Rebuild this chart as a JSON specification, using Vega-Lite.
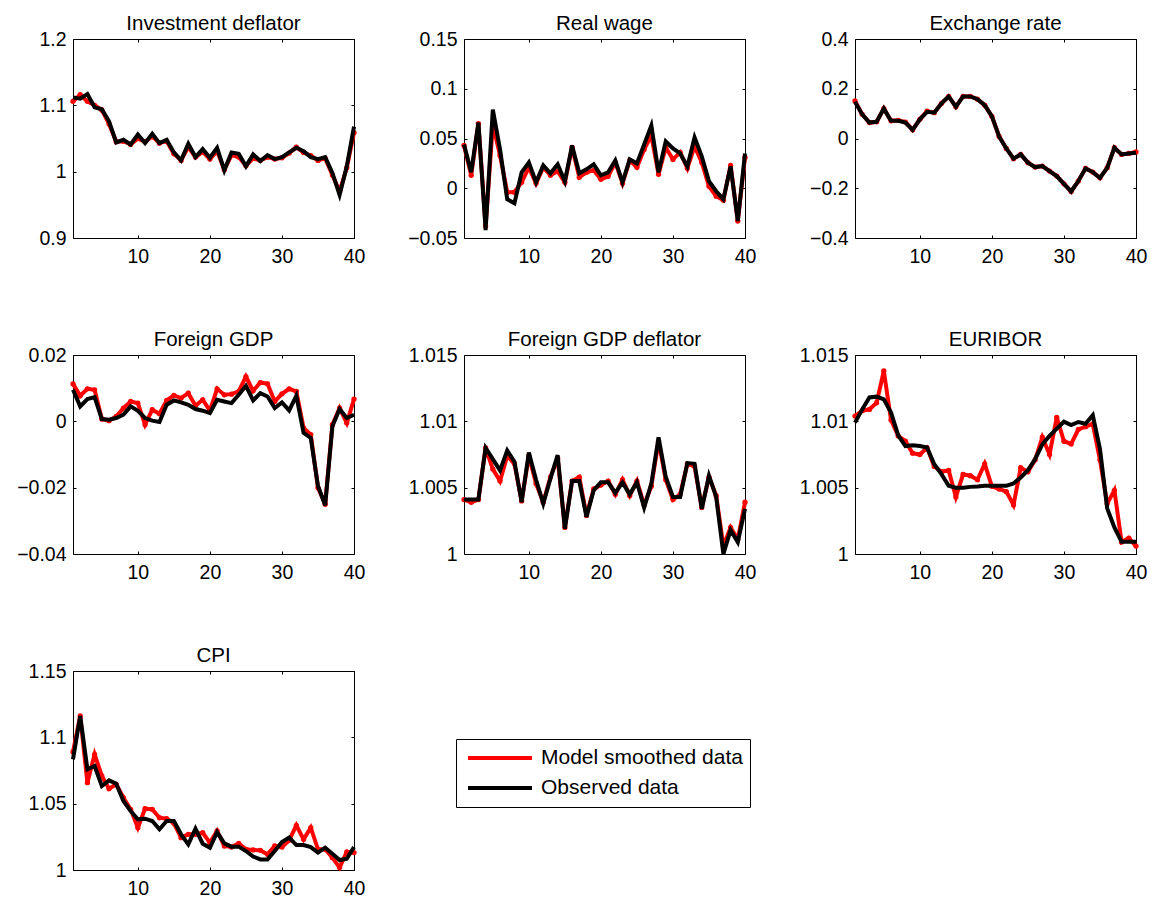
{
"$schema": "https://vega.github.io/schema/vega-lite/v6.json",
"background": "white",
"padding": {"left": 16, "top": 13, "right": 5, "bottom": 5},
"config": {
  "font": "Liberation Sans",
  "view": {"stroke": "black", "strokeWidth": 1},
  "axis": {"labelFont": "Liberation Sans", "labelFontSize": 19.5, "labelColor": "black", "domain": false, "grid": false, "tickColor": "black", "tickWidth": 1, "labelOverlap": false},
  "title": {"font": "Liberation Sans", "fontSize": 20.5, "fontWeight": "normal", "color": "black", "offset": -2, "dy": 3, "baseline": "alphabetic"},
  "line": {"strokeJoin": "miter"}
},
"datasets": {
"inv": [
{"t":1,"model":1.106,"obs":1.112},{"t":2,"model":1.116,"obs":1.110},{"t":3,"model":1.106,"obs":1.117},{"t":4,"model":1.100,"obs":1.097},{"t":5,"model":1.093,"obs":1.094},
{"t":6,"model":1.072,"obs":1.076},{"t":7,"model":1.045,"obs":1.044},{"t":8,"model":1.046,"obs":1.048},{"t":9,"model":1.041,"obs":1.041},{"t":10,"model":1.050,"obs":1.056},
{"t":11,"model":1.045,"obs":1.043},{"t":12,"model":1.053,"obs":1.057},{"t":13,"model":1.043,"obs":1.043},{"t":14,"model":1.046,"obs":1.048},{"t":15,"model":1.027,"obs":1.029},
{"t":16,"model":1.017,"obs":1.017},{"t":17,"model":1.037,"obs":1.042},{"t":18,"model":1.022,"obs":1.022},{"t":19,"model":1.030,"obs":1.034},{"t":20,"model":1.019,"obs":1.021},
{"t":21,"model":1.031,"obs":1.036},{"t":22,"model":1.003,"obs":1.002},{"t":23,"model":1.025,"obs":1.029},{"t":24,"model":1.022,"obs":1.027},{"t":25,"model":1.009,"obs":1.008},
{"t":26,"model":1.020,"obs":1.026},{"t":27,"model":1.017,"obs":1.016},{"t":28,"model":1.022,"obs":1.025},{"t":29,"model":1.019,"obs":1.019},{"t":30,"model":1.021,"obs":1.022},
{"t":31,"model":1.028,"obs":1.029},{"t":32,"model":1.037,"obs":1.036},{"t":33,"model":1.029,"obs":1.031},{"t":34,"model":1.024,"obs":1.022},{"t":35,"model":1.017,"obs":1.019},
{"t":36,"model":1.020,"obs":1.022},{"t":37,"model":0.995,"obs":0.998},{"t":38,"model":0.970,"obs":0.965},{"t":39,"model":1.006,"obs":1.008},{"t":40,"model":1.059,"obs":1.068}
],
"wage": [
{"t":1,"model":0.043,"obs":0.044},{"t":2,"model":0.013,"obs":0.016},{"t":3,"model":0.065,"obs":0.066},{"t":4,"model":-0.038,"obs":-0.042},{"t":5,"model":0.064,"obs":0.079},
{"t":6,"model":0.033,"obs":0.039},{"t":7,"model":-0.004,"obs":-0.011},{"t":8,"model":-0.004,"obs":-0.015},{"t":9,"model":0.006,"obs":0.016},{"t":10,"model":0.021,"obs":0.026},
{"t":11,"model":0.005,"obs":0.006},{"t":12,"model":0.021,"obs":0.023},{"t":13,"model":0.013,"obs":0.015},{"t":14,"model":0.017,"obs":0.024},{"t":15,"model":0.006,"obs":0.007},
{"t":16,"model":0.041,"obs":0.043},{"t":17,"model":0.011,"obs":0.015},{"t":18,"model":0.016,"obs":0.019},{"t":19,"model":0.018,"obs":0.024},{"t":20,"model":0.009,"obs":0.013},
{"t":21,"model":0.012,"obs":0.016},{"t":22,"model":0.026,"obs":0.028},{"t":23,"model":0.005,"obs":0.006},{"t":24,"model":0.028,"obs":0.029},{"t":25,"model":0.021,"obs":0.025},
{"t":26,"model":0.039,"obs":0.044},{"t":27,"model":0.053,"obs":0.063},{"t":28,"model":0.014,"obs":0.016},{"t":29,"model":0.041,"obs":0.047},{"t":30,"model":0.029,"obs":0.040},
{"t":31,"model":0.036,"obs":0.035},{"t":32,"model":0.020,"obs":0.022},{"t":33,"model":0.042,"obs":0.051},{"t":34,"model":0.026,"obs":0.032},{"t":35,"model":0.002,"obs":0.007},
{"t":36,"model":-0.008,"obs":-0.003},{"t":37,"model":-0.012,"obs":-0.011},{"t":38,"model":0.023,"obs":0.022},{"t":39,"model":-0.033,"obs":-0.033},{"t":40,"model":0.031,"obs":0.035}
],
"exch": [
{"t":1,"model":0.151,"obs":0.148},{"t":2,"model":0.097,"obs":0.097},{"t":3,"model":0.064,"obs":0.064},{"t":4,"model":0.067,"obs":0.067},{"t":5,"model":0.120,"obs":0.120},
{"t":6,"model":0.071,"obs":0.071},{"t":7,"model":0.073,"obs":0.071},{"t":8,"model":0.066,"obs":0.064},{"t":9,"model":0.035,"obs":0.035},{"t":10,"model":0.077,"obs":0.077},
{"t":11,"model":0.110,"obs":0.107},{"t":12,"model":0.104,"obs":0.104},{"t":13,"model":0.141,"obs":0.141},{"t":14,"model":0.169,"obs":0.169},{"t":15,"model":0.128,"obs":0.128},
{"t":16,"model":0.169,"obs":0.169},{"t":17,"model":0.169,"obs":0.169},{"t":18,"model":0.158,"obs":0.158},{"t":19,"model":0.134,"obs":0.134},{"t":20,"model":0.089,"obs":0.089},
{"t":21,"model":0.008,"obs":0.008},{"t":22,"model":-0.040,"obs":-0.040},{"t":23,"model":-0.081,"obs":-0.081},{"t":24,"model":-0.064,"obs":-0.064},{"t":25,"model":-0.097,"obs":-0.097},
{"t":26,"model":-0.115,"obs":-0.115},{"t":27,"model":-0.111,"obs":-0.111},{"t":28,"model":-0.131,"obs":-0.131},{"t":29,"model":-0.151,"obs":-0.151},{"t":30,"model":-0.182,"obs":-0.182},
{"t":31,"model":-0.213,"obs":-0.213},{"t":32,"model":-0.171,"obs":-0.171},{"t":33,"model":-0.120,"obs":-0.120},{"t":34,"model":-0.135,"obs":-0.135},{"t":35,"model":-0.158,"obs":-0.158},
{"t":36,"model":-0.118,"obs":-0.118},{"t":37,"model":-0.037,"obs":-0.037},{"t":38,"model":-0.064,"obs":-0.064},{"t":39,"model":-0.060,"obs":-0.060},{"t":40,"model":-0.054,"obs":-0.057}
],
"fgdp": [
{"t":1,"model":0.0113,"obs":0.0095},{"t":2,"model":0.0077,"obs":0.0045},{"t":3,"model":0.0098,"obs":0.0067},{"t":4,"model":0.0095,"obs":0.0073},{"t":5,"model":0.0007,"obs":0.0007},
{"t":6,"model":0.0002,"obs":0.0005},{"t":7,"model":0.0015,"obs":0.0010},{"t":8,"model":0.0040,"obs":0.0020},{"t":9,"model":0.0060,"obs":0.0045},{"t":10,"model":0.0055,"obs":0.0032},
{"t":11,"model":-0.0010,"obs":0.0010},{"t":12,"model":0.0035,"obs":0.0002},{"t":13,"model":0.0023,"obs":-0.0002},{"t":14,"model":0.0063,"obs":0.0050},{"t":15,"model":0.0078,"obs":0.0063},
{"t":16,"model":0.0070,"obs":0.0057},{"t":17,"model":0.0085,"obs":0.0050},{"t":18,"model":0.0047,"obs":0.0037},{"t":19,"model":0.0065,"obs":0.0032},{"t":20,"model":0.0032,"obs":0.0025},
{"t":21,"model":0.0098,"obs":0.0065},{"t":22,"model":0.0080,"obs":0.0060},{"t":23,"model":0.0082,"obs":0.0055},{"t":24,"model":0.0090,"obs":0.0080},{"t":25,"model":0.0135,"obs":0.0107},
{"t":26,"model":0.0092,"obs":0.0063},{"t":27,"model":0.0117,"obs":0.0085},{"t":28,"model":0.0113,"obs":0.0075},{"t":29,"model":0.0060,"obs":0.0040},{"t":30,"model":0.0083,"obs":0.0057},
{"t":31,"model":0.0098,"obs":0.0033},{"t":32,"model":0.0090,"obs":0.0077},{"t":33,"model":-0.0020,"obs":-0.0035},{"t":34,"model":-0.0040,"obs":-0.0050},{"t":35,"model":-0.0200,"obs":-0.0195},
{"t":36,"model":-0.0250,"obs":-0.0253},{"t":37,"model":-0.0010,"obs":-0.0015},{"t":38,"model":0.0040,"obs":0.0037},{"t":39,"model":-0.0005,"obs":0.0010},{"t":40,"model":0.0067,"obs":0.0020}
],
"fdef": [
{"t":1,"model":1.0041,"obs":1.0041},{"t":2,"model":1.0039,"obs":1.0041},{"t":3,"model":1.0041,"obs":1.0041},{"t":4,"model":1.0080,"obs":1.0080},{"t":5,"model":1.0064,"obs":1.00715},
{"t":6,"model":1.0055,"obs":1.0063},{"t":7,"model":1.0074,"obs":1.0078},{"t":8,"model":1.0068,"obs":1.00695},{"t":9,"model":1.0040,"obs":1.0039},{"t":10,"model":1.0074,"obs":1.00765},
{"t":11,"model":1.0053,"obs":1.0056},{"t":12,"model":1.0039,"obs":1.0038},{"t":13,"model":1.0058,"obs":1.0057},{"t":14,"model":1.0072,"obs":1.00745},{"t":15,"model":1.0020,"obs":1.0019},
{"t":16,"model":1.0055,"obs":1.0055},{"t":17,"model":1.0058,"obs":1.0055},{"t":18,"model":1.0029,"obs":1.0028},{"t":19,"model":1.0049,"obs":1.0048},{"t":20,"model":1.0052,"obs":1.0054},
{"t":21,"model":1.0055,"obs":1.0054},{"t":22,"model":1.0045,"obs":1.0046},{"t":23,"model":1.0056,"obs":1.0054},{"t":24,"model":1.0044,"obs":1.0045},{"t":25,"model":1.0055,"obs":1.0054},
{"t":26,"model":1.0037,"obs":1.0035},{"t":27,"model":1.0051,"obs":1.0053},{"t":28,"model":1.0085,"obs":1.0088},{"t":29,"model":1.0056,"obs":1.0058},{"t":30,"model":1.0041,"obs":1.0043},
{"t":31,"model":1.0045,"obs":1.0043},{"t":32,"model":1.0068,"obs":1.00685},{"t":33,"model":1.0066,"obs":1.0068},{"t":34,"model":1.0035,"obs":1.0034},{"t":35,"model":1.0058,"obs":1.0059},
{"t":36,"model":1.0044,"obs":1.0043},{"t":37,"model":1.0006,"obs":1.0000},{"t":38,"model":1.0020,"obs":1.0018},{"t":39,"model":1.0011,"obs":1.0009},{"t":40,"model":1.0039,"obs":1.0034}
],
"euri": [
{"t":1,"model":1.0104,"obs":1.0099},{"t":2,"model":1.0108,"obs":1.0109},{"t":3,"model":1.0109,"obs":1.0118},{"t":4,"model":1.0114,"obs":1.01186},{"t":5,"model":1.0138,"obs":1.01166},
{"t":6,"model":1.0101,"obs":1.01066},{"t":7,"model":1.0089,"obs":1.00895},{"t":8,"model":1.0085,"obs":1.00814},{"t":9,"model":1.0076,"obs":1.0082},{"t":10,"model":1.0075,"obs":1.00814},
{"t":11,"model":1.0080,"obs":1.00803},{"t":12,"model":1.0066,"obs":1.00677},{"t":13,"model":1.0062,"obs":1.00602},{"t":14,"model":1.0063,"obs":1.00514},{"t":15,"model":1.0043,"obs":1.0050},
{"t":16,"model":1.0060,"obs":1.0050},{"t":17,"model":1.0059,"obs":1.00506},{"t":18,"model":1.0056,"obs":1.00508},{"t":19,"model":1.0068,"obs":1.00514},{"t":20,"model":1.0051,"obs":1.00514},
{"t":21,"model":1.0049,"obs":1.00514},{"t":22,"model":1.0047,"obs":1.00514},{"t":23,"model":1.0037,"obs":1.00532},{"t":24,"model":1.0065,"obs":1.00577},{"t":25,"model":1.0062,"obs":1.00632},
{"t":26,"model":1.0071,"obs":1.00715},{"t":27,"model":1.0088,"obs":1.00827},{"t":28,"model":1.0075,"obs":1.0089},{"t":29,"model":1.0103,"obs":1.00945},{"t":30,"model":1.0085,"obs":1.00997},
{"t":31,"model":1.0083,"obs":1.00972},{"t":32,"model":1.0094,"obs":1.00995},{"t":33,"model":1.0096,"obs":1.00982},{"t":34,"model":1.0098,"obs":1.01046},{"t":35,"model":1.0071,"obs":1.0079},
{"t":36,"model":1.0038,"obs":1.00344},{"t":37,"model":1.0048,"obs":1.0020},{"t":38,"model":1.0009,"obs":1.00093},{"t":39,"model":1.0012,"obs":1.00093},{"t":40,"model":1.0006,"obs":1.00093}
],
"cpi": [
{"t":1,"model":1.0890,"obs":1.0834},{"t":2,"model":1.1161,"obs":1.1161},{"t":3,"model":1.0658,"obs":1.0759},{"t":4,"model":1.0872,"obs":1.0784},{"t":5,"model":1.0709,"obs":1.0633},
{"t":6,"model":1.0613,"obs":1.0676},{"t":7,"model":1.0646,"obs":1.0651},{"t":8,"model":1.0545,"obs":1.0520},{"t":9,"model":1.0457,"obs":1.0445},{"t":10,"model":1.0319,"obs":1.0382},
{"t":11,"model":1.0462,"obs":1.0387},{"t":12,"model":1.0457,"obs":1.0369},{"t":13,"model":1.0394,"obs":1.0307},{"t":14,"model":1.0387,"obs":1.0369},{"t":15,"model":1.0352,"obs":1.0369},
{"t":16,"model":1.0244,"obs":1.0269},{"t":17,"model":1.0269,"obs":1.0193},{"t":18,"model":1.0269,"obs":1.0312},{"t":19,"model":1.0281,"obs":1.0198},{"t":20,"model":1.0206,"obs":1.0168},
{"t":21,"model":1.0294,"obs":1.0286},{"t":22,"model":1.0181,"obs":1.0201},{"t":23,"model":1.0173,"obs":1.0176},{"t":24,"model":1.0201,"obs":1.0176},{"t":25,"model":1.0156,"obs":1.0143},
{"t":26,"model":1.0151,"obs":1.0101},{"t":27,"model":1.0148,"obs":1.0080},{"t":28,"model":1.0118,"obs":1.0080},{"t":29,"model":1.0181,"obs":1.0143},{"t":30,"model":1.0173,"obs":1.0211},
{"t":31,"model":1.0224,"obs":1.0244},{"t":32,"model":1.0337,"obs":1.0188},{"t":33,"model":1.0231,"obs":1.0188},{"t":34,"model":1.0319,"obs":1.0173},{"t":35,"model":1.0156,"obs":1.0131},
{"t":36,"model":1.0156,"obs":1.0168},{"t":37,"model":1.0093,"obs":1.0123},{"t":38,"model":1.0018,"obs":1.0075},{"t":39,"model":1.0136,"obs":1.0085},{"t":40,"model":1.0131,"obs":1.0173}
]
},
"columns": 3,
"spacing": {"row": 117, "column": 110},
"bounds": "flush",
"resolve": {"scale": {"color": "independent"}, "legend": {"color": "independent"}},
"concat": [
{"title": "Investment deflator", "width": 281, "height": 199, "data": {"name": "inv"},
 "layer": [
  {"mark": {"type": "line", "color": "#ff0000", "strokeWidth": 4},
   "encoding": {
    "x": {"field": "t", "type": "quantitative", "scale": {"domain": [1, 40], "nice": false, "zero": false}, "axis": {"orient": "bottom", "values": [10, 20, 30, 40], "format": "d", "ticks": false, "tickSize": 0, "labelPadding": 9, "labelFlush": false, "title": null}},
    "y": {"field": "model", "type": "quantitative", "scale": {"domain": [0.9, 1.2], "nice": false, "zero": false}, "axis": {"orient": "left", "values": [0.9, 1, 1.1, 1.2], "labelExpr": "format(datum.value, '~g')", "ticks": false, "tickSize": 0, "labelPadding": 7, "title": null}}}},
  {"mark": {"type": "point", "filled": true, "color": "#ff0000", "size": 28, "opacity": 1},
   "encoding": {
    "x": {"field": "t", "type": "quantitative", "scale": {"domain": [1, 40], "nice": false, "zero": false}, "axis": {"orient": "bottom", "values": [10, 20, 30, 40], "labels": false, "tickSize": -3, "title": null}},
    "y": {"field": "model", "type": "quantitative", "scale": {"domain": [0.9, 1.2], "nice": false, "zero": false}, "axis": {"orient": "left", "values": [0.9, 1, 1.1, 1.2], "labels": false, "tickSize": -3, "title": null}}}},
  {"mark": {"type": "line", "color": "#000000", "strokeWidth": 4},
   "encoding": {
    "x": {"field": "t", "type": "quantitative", "scale": {"domain": [1, 40], "nice": false, "zero": false}, "axis": {"orient": "top", "values": [10, 20, 30, 40], "labels": false, "tickSize": -3, "title": null}},
    "y": {"field": "obs", "type": "quantitative", "scale": {"domain": [0.9, 1.2], "nice": false, "zero": false}, "axis": {"orient": "right", "values": [0.9, 1, 1.1, 1.2], "labels": false, "tickSize": -3, "title": null}}}}
 ],
 "resolve": {"axis": {"x": "independent", "y": "independent"}}},
{"title": "Real wage", "width": 281, "height": 199, "data": {"name": "wage"},
 "layer": [
  {"mark": {"type": "line", "color": "#ff0000", "strokeWidth": 4},
   "encoding": {
    "x": {"field": "t", "type": "quantitative", "scale": {"domain": [1, 40], "nice": false, "zero": false}, "axis": {"orient": "bottom", "values": [10, 20, 30, 40], "format": "d", "ticks": false, "tickSize": 0, "labelPadding": 9, "labelFlush": false, "title": null}},
    "y": {"field": "model", "type": "quantitative", "scale": {"domain": [-0.05, 0.15], "nice": false, "zero": false}, "axis": {"orient": "left", "values": [-0.05, 0, 0.05, 0.1, 0.15], "labelExpr": "format(datum.value, '~g')", "ticks": false, "tickSize": 0, "labelPadding": 7, "title": null}}}},
  {"mark": {"type": "point", "filled": true, "color": "#ff0000", "size": 28, "opacity": 1},
   "encoding": {
    "x": {"field": "t", "type": "quantitative", "scale": {"domain": [1, 40], "nice": false, "zero": false}, "axis": {"orient": "bottom", "values": [10, 20, 30, 40], "labels": false, "tickSize": -3, "title": null}},
    "y": {"field": "model", "type": "quantitative", "scale": {"domain": [-0.05, 0.15], "nice": false, "zero": false}, "axis": {"orient": "left", "values": [-0.05, 0, 0.05, 0.1, 0.15], "labels": false, "tickSize": -3, "title": null}}}},
  {"mark": {"type": "line", "color": "#000000", "strokeWidth": 4},
   "encoding": {
    "x": {"field": "t", "type": "quantitative", "scale": {"domain": [1, 40], "nice": false, "zero": false}, "axis": {"orient": "top", "values": [10, 20, 30, 40], "labels": false, "tickSize": -3, "title": null}},
    "y": {"field": "obs", "type": "quantitative", "scale": {"domain": [-0.05, 0.15], "nice": false, "zero": false}, "axis": {"orient": "right", "values": [-0.05, 0, 0.05, 0.1, 0.15], "labels": false, "tickSize": -3, "title": null}}}}
 ],
 "resolve": {"axis": {"x": "independent", "y": "independent"}}},
{"title": "Exchange rate", "width": 281, "height": 199, "data": {"name": "exch"},
 "layer": [
  {"mark": {"type": "line", "color": "#ff0000", "strokeWidth": 4},
   "encoding": {
    "x": {"field": "t", "type": "quantitative", "scale": {"domain": [1, 40], "nice": false, "zero": false}, "axis": {"orient": "bottom", "values": [10, 20, 30, 40], "format": "d", "ticks": false, "tickSize": 0, "labelPadding": 9, "labelFlush": false, "title": null}},
    "y": {"field": "model", "type": "quantitative", "scale": {"domain": [-0.4, 0.4], "nice": false, "zero": false}, "axis": {"orient": "left", "values": [-0.4, -0.2, 0, 0.2, 0.4], "labelExpr": "format(datum.value, '~g')", "ticks": false, "tickSize": 0, "labelPadding": 7, "title": null}}}},
  {"mark": {"type": "point", "filled": true, "color": "#ff0000", "size": 28, "opacity": 1},
   "encoding": {
    "x": {"field": "t", "type": "quantitative", "scale": {"domain": [1, 40], "nice": false, "zero": false}, "axis": {"orient": "bottom", "values": [10, 20, 30, 40], "labels": false, "tickSize": -3, "title": null}},
    "y": {"field": "model", "type": "quantitative", "scale": {"domain": [-0.4, 0.4], "nice": false, "zero": false}, "axis": {"orient": "left", "values": [-0.4, -0.2, 0, 0.2, 0.4], "labels": false, "tickSize": -3, "title": null}}}},
  {"mark": {"type": "line", "color": "#000000", "strokeWidth": 4},
   "encoding": {
    "x": {"field": "t", "type": "quantitative", "scale": {"domain": [1, 40], "nice": false, "zero": false}, "axis": {"orient": "top", "values": [10, 20, 30, 40], "labels": false, "tickSize": -3, "title": null}},
    "y": {"field": "obs", "type": "quantitative", "scale": {"domain": [-0.4, 0.4], "nice": false, "zero": false}, "axis": {"orient": "right", "values": [-0.4, -0.2, 0, 0.2, 0.4], "labels": false, "tickSize": -3, "title": null}}}}
 ],
 "resolve": {"axis": {"x": "independent", "y": "independent"}}},
{"title": "Foreign GDP", "width": 281, "height": 199, "data": {"name": "fgdp"},
 "layer": [
  {"mark": {"type": "line", "color": "#ff0000", "strokeWidth": 4},
   "encoding": {
    "x": {"field": "t", "type": "quantitative", "scale": {"domain": [1, 40], "nice": false, "zero": false}, "axis": {"orient": "bottom", "values": [10, 20, 30, 40], "format": "d", "ticks": false, "tickSize": 0, "labelPadding": 9, "labelFlush": false, "title": null}},
    "y": {"field": "model", "type": "quantitative", "scale": {"domain": [-0.04, 0.02], "nice": false, "zero": false}, "axis": {"orient": "left", "values": [-0.04, -0.02, 0, 0.02], "labelExpr": "format(datum.value, '~g')", "ticks": false, "tickSize": 0, "labelPadding": 7, "title": null}}}},
  {"mark": {"type": "point", "filled": true, "color": "#ff0000", "size": 28, "opacity": 1},
   "encoding": {
    "x": {"field": "t", "type": "quantitative", "scale": {"domain": [1, 40], "nice": false, "zero": false}, "axis": {"orient": "bottom", "values": [10, 20, 30, 40], "labels": false, "tickSize": -3, "title": null}},
    "y": {"field": "model", "type": "quantitative", "scale": {"domain": [-0.04, 0.02], "nice": false, "zero": false}, "axis": {"orient": "left", "values": [-0.04, -0.02, 0, 0.02], "labels": false, "tickSize": -3, "title": null}}}},
  {"mark": {"type": "line", "color": "#000000", "strokeWidth": 4},
   "encoding": {
    "x": {"field": "t", "type": "quantitative", "scale": {"domain": [1, 40], "nice": false, "zero": false}, "axis": {"orient": "top", "values": [10, 20, 30, 40], "labels": false, "tickSize": -3, "title": null}},
    "y": {"field": "obs", "type": "quantitative", "scale": {"domain": [-0.04, 0.02], "nice": false, "zero": false}, "axis": {"orient": "right", "values": [-0.04, -0.02, 0, 0.02], "labels": false, "tickSize": -3, "title": null}}}}
 ],
 "resolve": {"axis": {"x": "independent", "y": "independent"}}},
{"title": "Foreign GDP deflator", "width": 281, "height": 199, "data": {"name": "fdef"},
 "layer": [
  {"mark": {"type": "line", "color": "#ff0000", "strokeWidth": 4},
   "encoding": {
    "x": {"field": "t", "type": "quantitative", "scale": {"domain": [1, 40], "nice": false, "zero": false}, "axis": {"orient": "bottom", "values": [10, 20, 30, 40], "format": "d", "ticks": false, "tickSize": 0, "labelPadding": 9, "labelFlush": false, "title": null}},
    "y": {"field": "model", "type": "quantitative", "scale": {"domain": [1, 1.015], "nice": false, "zero": false}, "axis": {"orient": "left", "values": [1, 1.005, 1.01, 1.015], "labelExpr": "format(datum.value, '~g')", "ticks": false, "tickSize": 0, "labelPadding": 7, "title": null}}}},
  {"mark": {"type": "point", "filled": true, "color": "#ff0000", "size": 28, "opacity": 1},
   "encoding": {
    "x": {"field": "t", "type": "quantitative", "scale": {"domain": [1, 40], "nice": false, "zero": false}, "axis": {"orient": "bottom", "values": [10, 20, 30, 40], "labels": false, "tickSize": -3, "title": null}},
    "y": {"field": "model", "type": "quantitative", "scale": {"domain": [1, 1.015], "nice": false, "zero": false}, "axis": {"orient": "left", "values": [1, 1.005, 1.01, 1.015], "labels": false, "tickSize": -3, "title": null}}}},
  {"mark": {"type": "line", "color": "#000000", "strokeWidth": 4},
   "encoding": {
    "x": {"field": "t", "type": "quantitative", "scale": {"domain": [1, 40], "nice": false, "zero": false}, "axis": {"orient": "top", "values": [10, 20, 30, 40], "labels": false, "tickSize": -3, "title": null}},
    "y": {"field": "obs", "type": "quantitative", "scale": {"domain": [1, 1.015], "nice": false, "zero": false}, "axis": {"orient": "right", "values": [1, 1.005, 1.01, 1.015], "labels": false, "tickSize": -3, "title": null}}}}
 ],
 "resolve": {"axis": {"x": "independent", "y": "independent"}}},
{"title": "EURIBOR", "width": 281, "height": 199, "data": {"name": "euri"},
 "layer": [
  {"mark": {"type": "line", "color": "#ff0000", "strokeWidth": 4},
   "encoding": {
    "x": {"field": "t", "type": "quantitative", "scale": {"domain": [1, 40], "nice": false, "zero": false}, "axis": {"orient": "bottom", "values": [10, 20, 30, 40], "format": "d", "ticks": false, "tickSize": 0, "labelPadding": 9, "labelFlush": false, "title": null}},
    "y": {"field": "model", "type": "quantitative", "scale": {"domain": [1, 1.015], "nice": false, "zero": false}, "axis": {"orient": "left", "values": [1, 1.005, 1.01, 1.015], "labelExpr": "format(datum.value, '~g')", "ticks": false, "tickSize": 0, "labelPadding": 7, "title": null}}}},
  {"mark": {"type": "point", "filled": true, "color": "#ff0000", "size": 28, "opacity": 1},
   "encoding": {
    "x": {"field": "t", "type": "quantitative", "scale": {"domain": [1, 40], "nice": false, "zero": false}, "axis": {"orient": "bottom", "values": [10, 20, 30, 40], "labels": false, "tickSize": -3, "title": null}},
    "y": {"field": "model", "type": "quantitative", "scale": {"domain": [1, 1.015], "nice": false, "zero": false}, "axis": {"orient": "left", "values": [1, 1.005, 1.01, 1.015], "labels": false, "tickSize": -3, "title": null}}}},
  {"mark": {"type": "line", "color": "#000000", "strokeWidth": 4},
   "encoding": {
    "x": {"field": "t", "type": "quantitative", "scale": {"domain": [1, 40], "nice": false, "zero": false}, "axis": {"orient": "top", "values": [10, 20, 30, 40], "labels": false, "tickSize": -3, "title": null}},
    "y": {"field": "obs", "type": "quantitative", "scale": {"domain": [1, 1.015], "nice": false, "zero": false}, "axis": {"orient": "right", "values": [1, 1.005, 1.01, 1.015], "labels": false, "tickSize": -3, "title": null}}}}
 ],
 "resolve": {"axis": {"x": "independent", "y": "independent"}}},
{"title": "CPI", "width": 281, "height": 199, "data": {"name": "cpi"},
 "layer": [
  {"mark": {"type": "line", "strokeWidth": 4},
   "encoding": {
    "x": {"field": "t", "type": "quantitative", "scale": {"domain": [1, 40], "nice": false, "zero": false}, "axis": {"orient": "bottom", "values": [10, 20, 30, 40], "format": "d", "ticks": false, "tickSize": 0, "labelPadding": 9, "labelFlush": false, "title": null}},
    "y": {"field": "model", "type": "quantitative", "scale": {"domain": [1, 1.15], "nice": false, "zero": false}, "axis": {"orient": "left", "values": [1, 1.05, 1.1, 1.15], "labelExpr": "format(datum.value, '~g')", "ticks": false, "tickSize": 0, "labelPadding": 7, "title": null}},
    "color": {"datum": "Model smoothed data", "type": "nominal", "scale": {"domain": ["Model smoothed data", "Observed data"], "range": ["#ff0000", "#000000"]},
      "legend": {"orient": "none", "legendX": 383, "legendY": 68, "title": null, "symbolType": "stroke", "symbolSize": 4096, "symbolStrokeWidth": 4, "labelFont": "Liberation Sans", "labelFontSize": 21, "labelColor": "black", "labelLimit": 500, "strokeColor": "black", "fillColor": "white", "padding": 7, "rowPadding": 6, "clipHeight": 24, "symbolOffset": 3, "labelOffset": 7}}}},
  {"mark": {"type": "point", "filled": true, "color": "#ff0000", "size": 28, "opacity": 1},
   "encoding": {
    "x": {"field": "t", "type": "quantitative", "scale": {"domain": [1, 40], "nice": false, "zero": false}, "axis": {"orient": "bottom", "values": [10, 20, 30, 40], "labels": false, "tickSize": -3, "title": null}},
    "y": {"field": "model", "type": "quantitative", "scale": {"domain": [1, 1.15], "nice": false, "zero": false}, "axis": {"orient": "left", "values": [1, 1.05, 1.1, 1.15], "labels": false, "tickSize": -3, "title": null}}}},
  {"mark": {"type": "line", "strokeWidth": 4},
   "encoding": {
    "x": {"field": "t", "type": "quantitative", "scale": {"domain": [1, 40], "nice": false, "zero": false}, "axis": {"orient": "top", "values": [10, 20, 30, 40], "labels": false, "tickSize": -3, "title": null}},
    "y": {"field": "obs", "type": "quantitative", "scale": {"domain": [1, 1.15], "nice": false, "zero": false}, "axis": {"orient": "right", "values": [1, 1.05, 1.1, 1.15], "labels": false, "tickSize": -3, "title": null}},
    "color": {"datum": "Observed data", "type": "nominal", "scale": {"domain": ["Model smoothed data", "Observed data"], "range": ["#ff0000", "#000000"]},
      "legend": {"orient": "none", "legendX": 383, "legendY": 68, "title": null, "symbolType": "stroke", "symbolSize": 4096, "symbolStrokeWidth": 4, "labelFont": "Liberation Sans", "labelFontSize": 21, "labelColor": "black", "labelLimit": 500, "strokeColor": "black", "fillColor": "white", "padding": 7, "rowPadding": 6, "clipHeight": 24, "symbolOffset": 3, "labelOffset": 7}}}}
 ],
 "resolve": {"axis": {"x": "independent", "y": "independent"}}}
]
}
